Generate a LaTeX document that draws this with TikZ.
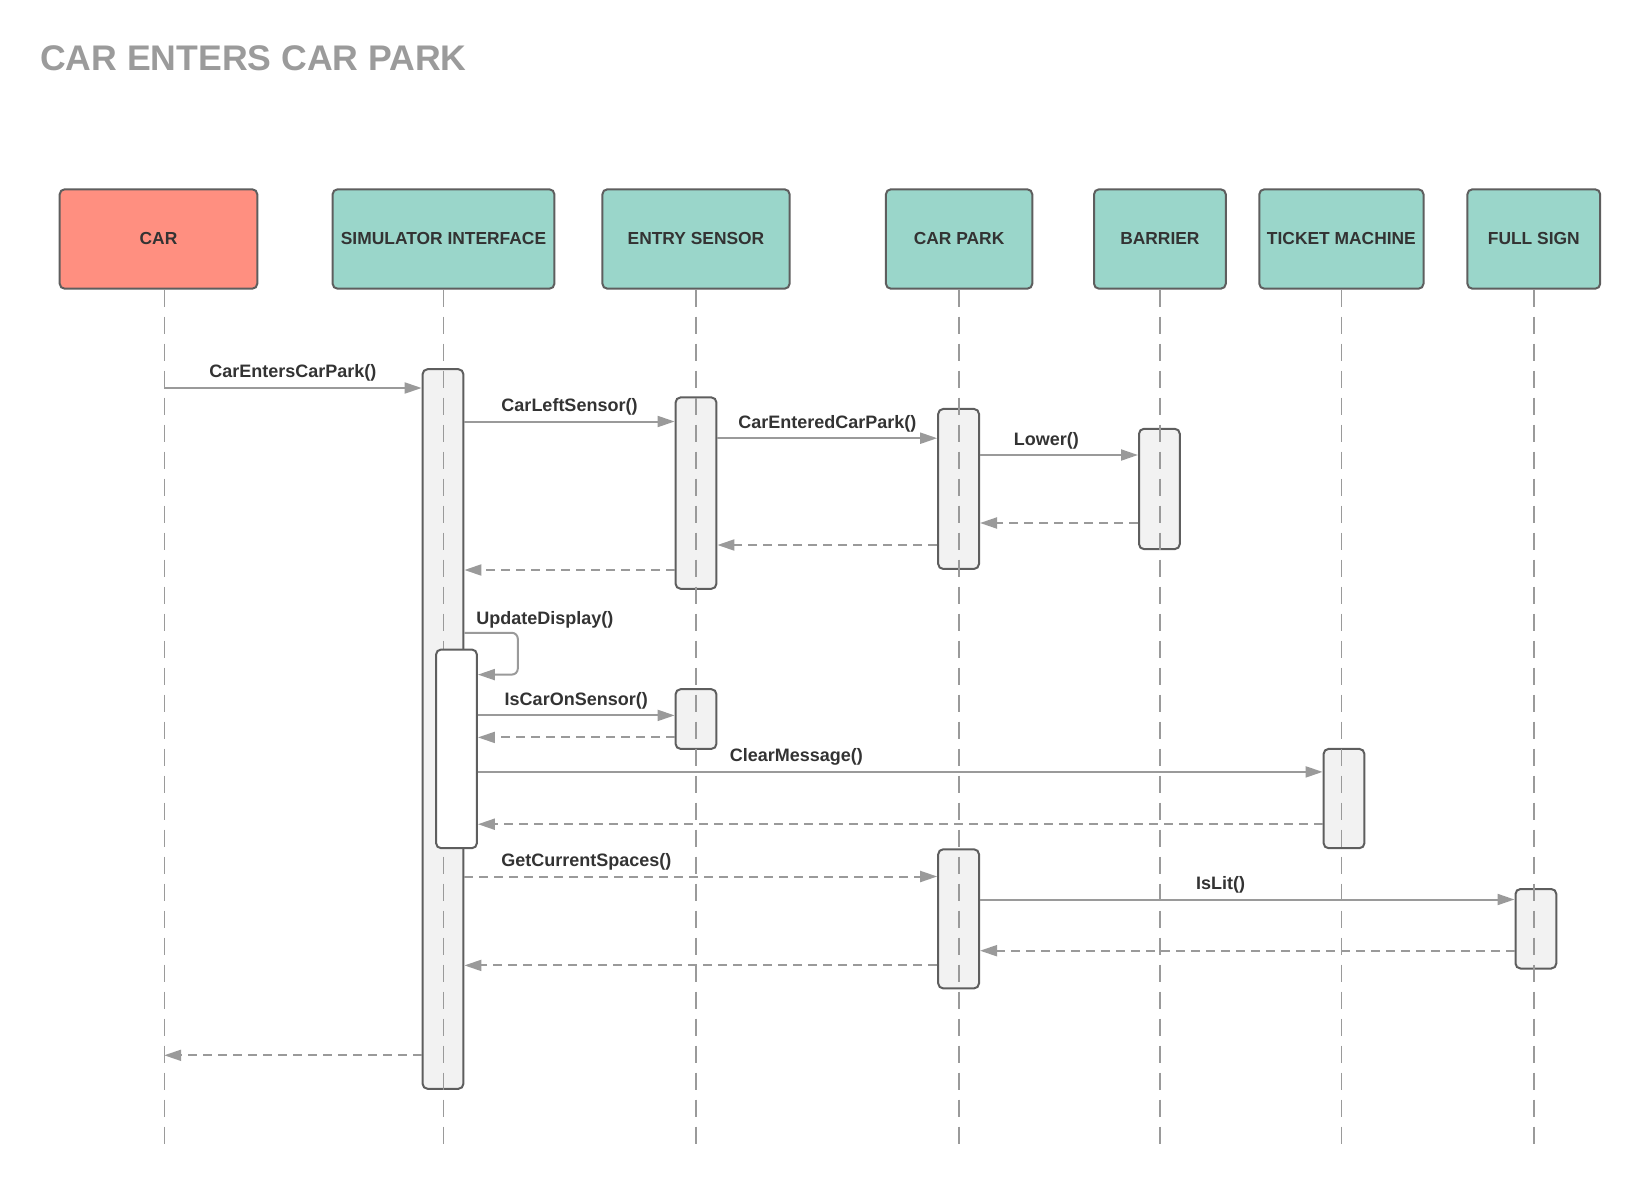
\documentclass[tikz,border=0pt]{standalone}
\usepackage{fontspec}
\setmainfont{Liberation Sans}
\usetikzlibrary{arrows.meta,
                positioning}
\definecolor{boxteal}{HTML}{9AD6CA}
\definecolor{carred}{HTML}{FF8F80}
\definecolor{boxline}{HTML}{5E5E5E}
\definecolor{wire}{HTML}{9A9A9A}
\definecolor{actfill}{HTML}{F2F2F2}
\definecolor{txt}{HTML}{333333}
\definecolor{titlegrey}{HTML}{9B9B9B}

\begin{document}
\begin{tikzpicture}[x=0.5pt, y=-0.5pt,
    actor/.style={draw=boxline, fill=boxteal, line width=1pt, rounded corners=2.5pt,
                  minimum height=49.7pt, inner sep=0pt, text=txt,
                  font=\bfseries\fontsize{8.7}{10}\selectfont},
    activation/.style={draw=boxline, fill=actfill, line width=1pt, rounded corners=2.5pt,
                       minimum width=20.4pt, inner sep=0pt},
    lifeline/.style={draw=wire, line width=0.7pt, dash pattern=on 8.5pt off 5pt},
    call/.style={draw=wire, line width=1pt, -{Triangle[length=8.5pt,width=5.5pt]}},
    reply/.style={call, dash pattern=on 4.5pt off 3pt},
    lbl/.style={inner sep=0pt, text=txt, font=\bfseries\fontsize{9}{10}\selectfont}]
    \useasboundingbox (0,0) rectangle (1640,1189);
    \node[anchor=west, inner sep=0pt, text=titlegrey, font=\bfseries\fontsize{17.8}{20}\selectfont] (title) at (39.7,58.6) {CAR ENTERS CAR PARK};

    % participants
    \node[actor, fill=carred, minimum width=98.8pt] (car) at (158.5,239) {CAR};
    \node[actor, minimum width=110.9pt] (sim) at (443.5,239) {SIMULATOR INTERFACE};
    \node[actor, minimum width=93.6pt] (ent) at (696,239) {ENTRY SENSOR};
    \node[actor, minimum width=73.2pt] (cp) at (959.1,239) {CAR PARK};
    \node[actor, minimum width=65.9pt] (bar) at (1159.9,239) {BARRIER};
    \node[actor, minimum width=82.1pt] (tm) at (1341.4,239) {TICKET MACHINE};
    \node[actor, minimum width=66.4pt] (fs) at (1533.8,239) {FULL SIGN};

    % activations
    \node[activation, minimum height=359.8pt] (simA) at (443,729) {};
    \node[activation, minimum height=95.7pt] (entA) at (696,493.1) {};
    \node[activation, minimum height=29.85pt] (entB) at (696,719.05) {};
    \node[activation, minimum height=80pt] (cpA) at (958.6,488.95) {};
    \node[activation, minimum height=69.55pt] (cpB) at (958.6,918.85) {};
    \node[activation, minimum height=60.15pt] (barA) at (1159.4,488.95) {};
    \node[activation, minimum height=49.65pt] (tmA) at (1344,798.55) {};
    \node[activation, minimum height=39.75pt] (fsA) at (1535.9,928.75) {};

    % lifelines
    \coordinate (carL) at (164.2,1150);
    \draw[lifeline] (car.south -| carL) -- (carL);
    \foreach \p in {sim,ent,cp,bar,tm,fs}
        \draw[lifeline] (\p.south) -- (\p.south |- carL);

    \node[activation, fill=white, minimum height=99.35pt] (simB) at (456.5,748.85) {};

    % messages
    \draw[call] (carL |- 0,388) -- (simA.west |- 0,388)
        node[lbl, midway, above=2.8pt] {CarEntersCarPark()};
    \draw[call] (simA.east |- 0,421.5) -- (entA.west |- 0,421.5)
        node[lbl, midway, above=2.6pt] {CarLeftSensor()};
    \draw[call] (entA.east |- 0,438.2) -- (cpA.west |- 0,438.2)
        node[lbl, midway, above=2.6pt] {CarEnteredCarPark()};
    \draw[call] (cpA.east |- 0,455) -- (barA.west |- 0,455)
        node[lbl, pos=0.42, above=2.6pt] {Lower()};
    \draw[reply] (barA.west |- 0,523) -- (cpA.east |- 0,523);
    \draw[reply] (cpA.west |- 0,545) -- (entA.east |- 0,545);
    \draw[reply] (entA.west |- 0,570) -- (simA.east |- 0,570);
    \draw[call, rounded corners=3pt] (simA.east |- 0,632.8)
        node[lbl, above right=2pt and 5.5pt] {UpdateDisplay()}
        -- ++(53.4,0) |- (simB.east |- 0,674.6);
    \draw[call] (simB.east |- 0,715.4) -- (entB.west |- 0,715.4)
        node[lbl, midway, above=2.8pt] {IsCarOnSensor()};
    \draw[reply] (entB.west |- 0,737.4) -- (simB.east |- 0,737.4);
    \draw[call] (simB.east |- 0,771.9) -- (tmA.west |- 0,771.9)
        node[lbl, pos=0.377, above=2.6pt] {ClearMessage()};
    \draw[reply] (tmA.west |- 0,824.2) -- (simB.east |- 0,824.2);
    \draw[reply] (simA.east |- 0,876.5) -- (cpB.west |- 0,876.5)
        node[lbl, pos=0.258, above=2.6pt] {GetCurrentSpaces()};
    \draw[call] (cpB.east |- 0,899.5) -- (fsA.west |- 0,899.5)
        node[lbl, pos=0.45, above=2.6pt] {IsLit()};
    \draw[reply] (fsA.west |- 0,950.7) -- (cpB.east |- 0,950.7);
    \draw[reply] (cpB.west |- 0,965.4) -- (simA.east |- 0,965.4);
    \draw[reply] (simA.west |- 0,1055.3) -- (carL |- 0,1055.3);
\end{tikzpicture}
\end{document}
